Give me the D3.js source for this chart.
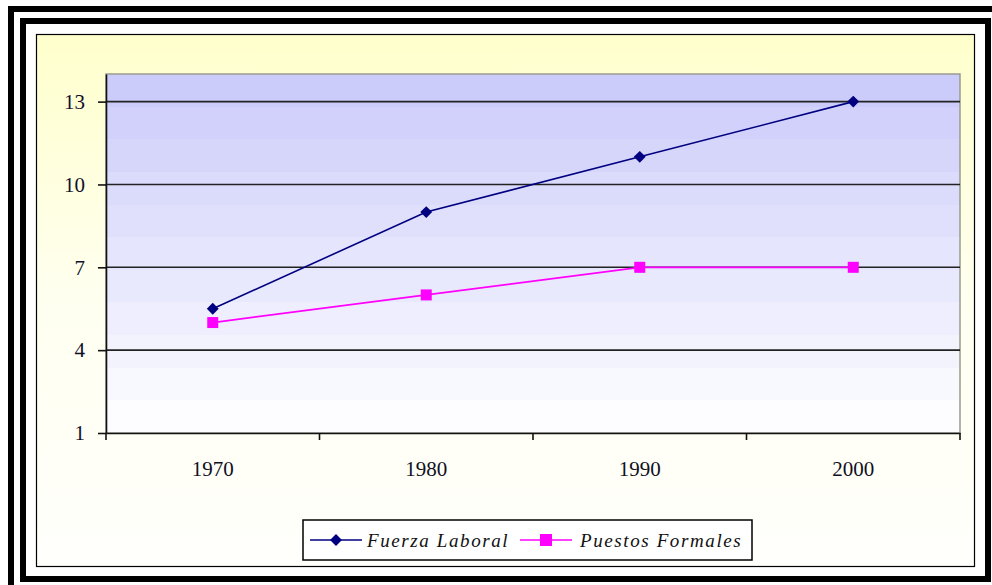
<!DOCTYPE html>
<html lang="es">

<head>
    <meta charset="UTF-8">
    <title>Fuerza laboral y puestos formales</title>
    <script src="https://d3js.org/d3.v7.min.js"></script>
    <style>
        html, body { margin: 0; padding: 0; background: #fff; }
        svg { display: block; }
    </style>
</head>

<body>
    <svg id="chart" width="992" height="585"></svg>

    <script>
        // data
        var years = ['1970', '1980', '1990', '2000'];
        var fuerzaLaboral = [5.5, 9, 11, 13];
        var puestosFormales = [5, 6, 7, 7];
        var yTicks = [1, 4, 7, 10, 13];
        var seriesNames = ['Fuerza Laboral', 'Puestos Formales'];

        function program() {
            var svg = d3.select('#chart');
            var defs = svg.append('defs');

            // frames around the whole thing
            svg.append('rect').attr('x', 11).attr('y', 9).attr('width', 990).attr('height', 600)
                .attr('fill', 'none').attr('stroke', '#000').attr('stroke-width', 6);
            svg.append('rect').attr('x', 23).attr('y', 21).attr('width', 965).attr('height', 558)
                .attr('fill', 'none').attr('stroke', '#000').attr('stroke-width', 6);

            // yellow chart area, fading out to white
            var yg = defs.append('linearGradient').attr('id', 'yellow')
                .attr('x1', 0).attr('y1', 0).attr('x2', 0).attr('y2', 1);
            yg.append('stop').attr('offset', '0%').attr('stop-color', '#ffffcc');
            yg.append('stop').attr('offset', '50%').attr('stop-color', '#fffff0');
            yg.append('stop').attr('offset', '100%').attr('stop-color', '#fffffc');
            svg.append('rect').attr('x', 36.5).attr('y', 34.5).attr('width', 938).attr('height', 532)
                .attr('fill', 'url(#yellow)').attr('stroke', '#000').attr('stroke-width', 1.2);

            var margin = {left: 106, top: 74, right: 960, bottom: 433};

            var x = d3.scaleBand().domain(years).range([margin.left, margin.right]);
            var y = d3.scaleLinear().domain([1, 14]).range([margin.bottom, margin.top]);

            // plot background, banded blue to white
            var pg = defs.append('linearGradient').attr('id', 'plotbg')
                .attr('x1', 0).attr('y1', 0).attr('x2', 0).attr('y2', 1);
            var bands = 11;
            for (var i = 0; i < bands; i++) {
                var t = i / (bands - 1);
                var c = d3.interpolateRgb('#ccccfa', '#fdfdff')(t);
                pg.append('stop').attr('offset', (i / bands * 100) + '%').attr('stop-color', c);
                pg.append('stop').attr('offset', ((i + 1) / bands * 100) + '%').attr('stop-color', c);
            }
            svg.append('rect')
                .attr('x', margin.left).attr('y', margin.top)
                .attr('width', margin.right - margin.left).attr('height', margin.bottom - margin.top)
                .attr('fill', 'url(#plotbg)').attr('stroke', '#9a9a90').attr('stroke-width', 1.5);

            // gridlines
            svg.append('g')
                .selectAll('line')
                .data(yTicks.slice(1))
                .join('line')
                .attr('x1', margin.left).attr('x2', margin.right)
                .attr('y1', d => y(d)).attr('y2', d => y(d))
                .attr('stroke', '#222').attr('stroke-width', 1.6);

            // y axis
            var yAxis = svg.append('g')
                .attr('transform', `translate(${margin.left},0)`)
                .call(d3.axisLeft(y).tickValues(yTicks).tickSizeInner(8).tickSizeOuter(0).tickPadding(13));
            yAxis.select('.domain').attr('stroke', '#111').attr('stroke-width', 1.6);
            yAxis.selectAll('.tick line').attr('stroke', '#111').attr('stroke-width', 1.6);
            yAxis.selectAll('text')
                .attr('font-family', '"Liberation Serif", "DejaVu Serif", serif')
                .attr('font-size', 21).attr('fill', '#10102a');

            // x axis: ticks sit between categories
            var xAxis = svg.append('g')
                .attr('transform', `translate(0,${margin.bottom})`)
                .call(d3.axisBottom(x).tickSizeInner(0).tickSizeOuter(0).tickPadding(28));
            xAxis.select('.domain').attr('stroke', '#111').attr('stroke-width', 1.6);
            xAxis.selectAll('text')
                .attr('font-family', '"Liberation Serif", "DejaVu Serif", serif')
                .attr('font-size', 21).attr('fill', '#10101e');
            var bounds = years.map(d => x(d)).concat([margin.right]);
            xAxis.selectAll('.sep')
                .data(bounds)
                .join('line')
                .attr('class', 'sep')
                .attr('x1', d => d).attr('x2', d => d)
                .attr('y1', 0).attr('y2', 7)
                .attr('stroke', '#111').attr('stroke-width', 1.6);

            var cx = d => x(d) + x.bandwidth() / 2;
            var line = d3.line().x(d => cx(d[0])).y(d => y(d[1]));

            var fuerza = years.map((d, i) => [d, fuerzaLaboral[i]]);
            var puestos = years.map((d, i) => [d, puestosFormales[i]]);

            svg.append('path').datum(puestos)
                .attr('d', line).attr('fill', 'none')
                .attr('stroke', '#ff00ff').attr('stroke-width', 1.8);
            svg.append('path').datum(fuerza)
                .attr('d', line).attr('fill', 'none')
                .attr('stroke', '#000080').attr('stroke-width', 1.6);

            var diamond = d3.symbol().type(d3.symbolDiamond2).size(90);
            svg.append('g').selectAll('path')
                .data(fuerza)
                .join('path')
                .attr('d', diamond)
                .attr('transform', d => `translate(${cx(d[0])},${y(d[1])})`)
                .attr('fill', '#000080');

            svg.append('g').selectAll('rect')
                .data(puestos)
                .join('rect')
                .attr('x', d => cx(d[0]) - 5.5).attr('y', d => y(d[1]) - 5.5)
                .attr('width', 11).attr('height', 11)
                .attr('fill', '#ff00ff');

            // legend
            var legend = svg.append('g').attr('transform', 'translate(303,520)');
            legend.append('rect').attr('width', 449).attr('height', 40)
                .attr('fill', '#fff').attr('stroke', '#000').attr('stroke-width', 1.5);

            var items = [
                {name: seriesNames[0], color: '#000080', x0: 7, tx: 64, marker: 'diamond'},
                {name: seriesNames[1], color: '#ff00ff', x0: 217, tx: 277, marker: 'square'}
            ];
            items.forEach(function(it) {
                legend.append('line')
                    .attr('x1', it.x0).attr('x2', it.x0 + 52)
                    .attr('y1', 20).attr('y2', 20)
                    .attr('stroke', it.color).attr('stroke-width', 1.6);
                if (it.marker === 'diamond') {
                    legend.append('path').attr('d', diamond)
                        .attr('transform', `translate(${it.x0 + 26},20)`)
                        .attr('fill', it.color);
                } else {
                    legend.append('rect')
                        .attr('x', it.x0 + 20).attr('y', 14).attr('width', 12).attr('height', 12)
                        .attr('fill', it.color);
                }
                legend.append('text')
                    .attr('x', it.tx).attr('y', 20).attr('dy', '0.35em')
                    .attr('font-family', '"Liberation Serif", "DejaVu Serif", serif')
                    .attr('font-style', 'italic').attr('font-size', 19)
                    .attr('letter-spacing', 1.6)
                    .attr('fill', '#101010')
                    .text(it.name);
            });
        }

        program();
    </script>
</body>

</html>
